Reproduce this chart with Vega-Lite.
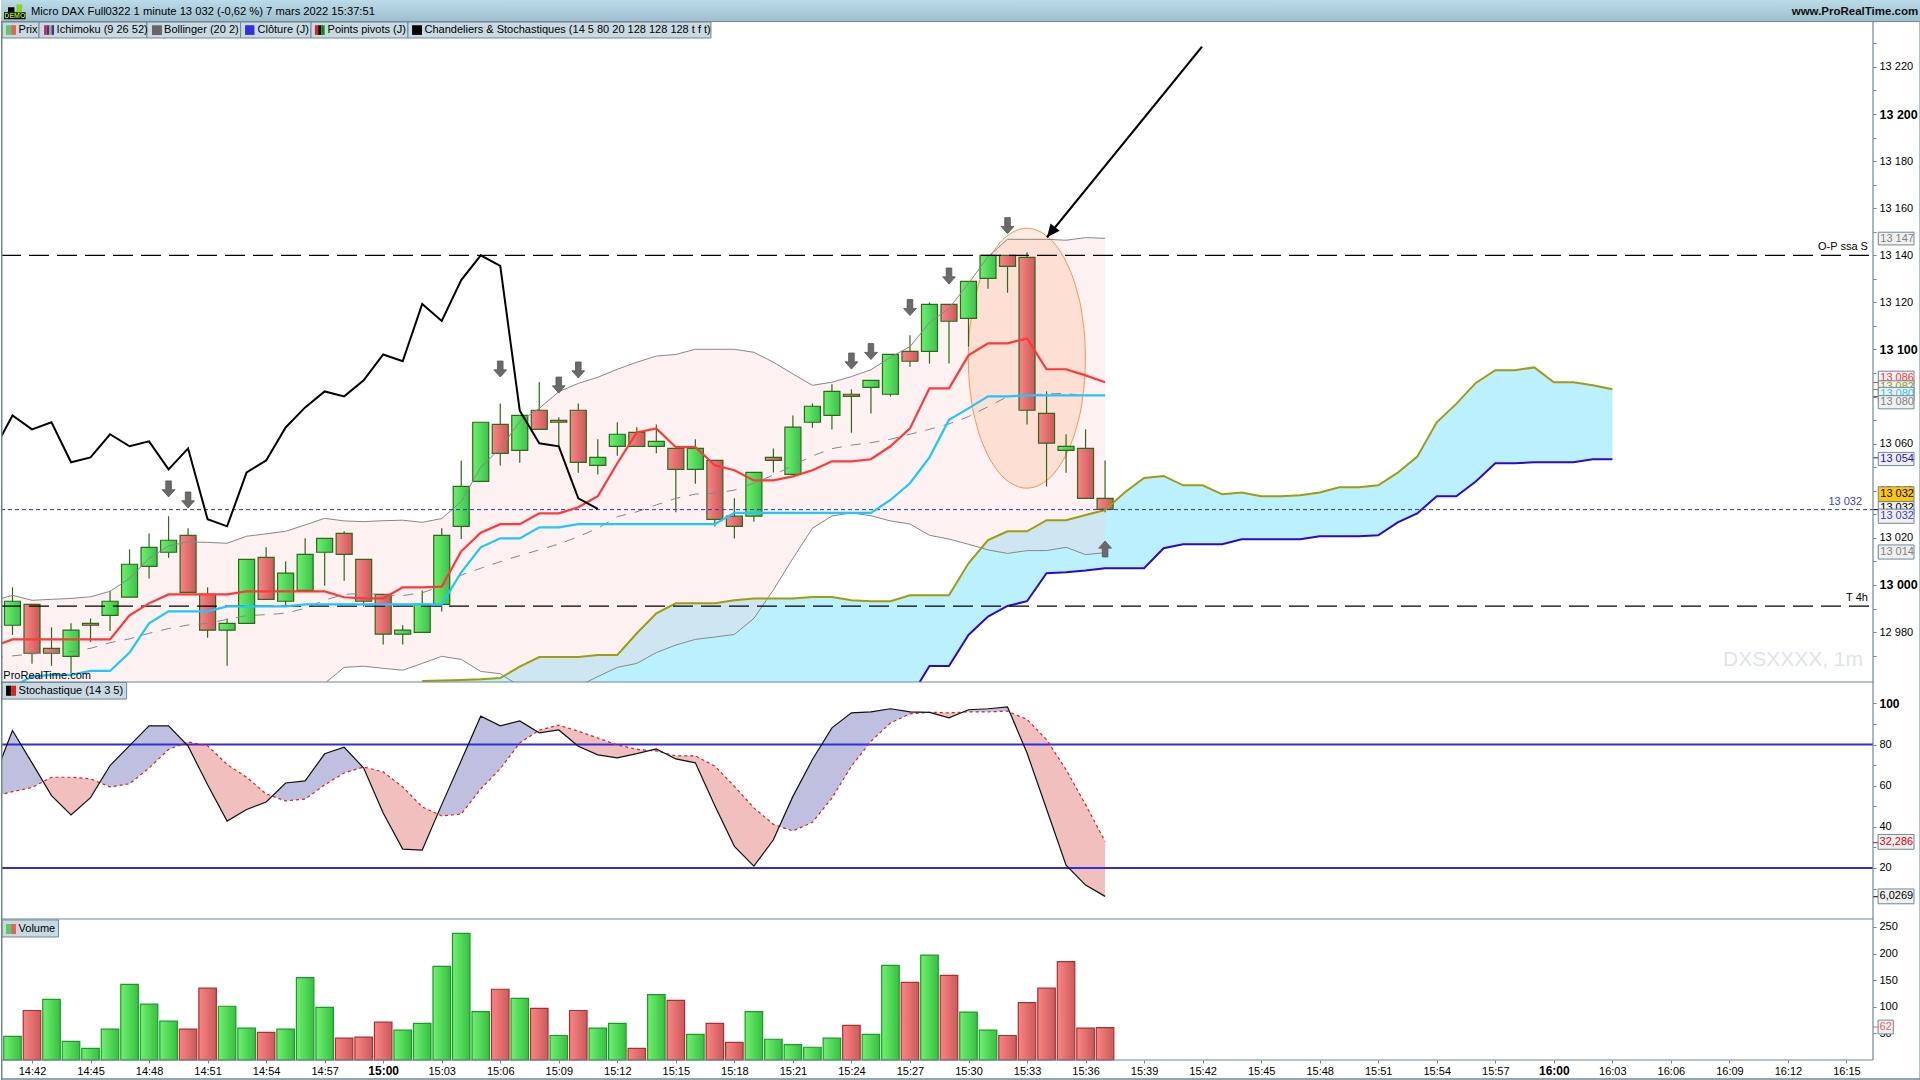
{"$schema":"https://vega.github.io/schema/vega-lite/v6.json","padding":0,"spacing":0,"bounds":"flush","background":"white","config":{"view":{"stroke":null},"axis":{"domain":false,"ticks":false,"labels":false,"grid":false,"titleOpacity":0,"titleFontSize":1,"titlePadding":0},"text":{"font":"Liberation Sans","fontSize":11},"concat":{"spacing":0}},
"datasets":{
"candles":[{"m":881,"o":12982.9,"h":12999,"l":12978.8,"c":12993.1},{"m":882,"o":12991.8,"h":12991.8,"l":12966.5,"c":12971},{"m":883,"o":12973.1,"h":12982,"l":12965.7,"c":12971},{"m":884,"o":12969.7,"h":12983.7,"l":12962.5,"c":12980.8},{"m":885,"o":12983.7,"h":12985.8,"l":12975.8,"c":12982.9},{"m":886,"o":12987.1,"h":12997.6,"l":12980.5,"c":12993.1},{"m":887,"o":12994.8,"h":13015.1,"l":12994.8,"c":13008.8},{"m":888,"o":13007.9,"h":13021.9,"l":13002.7,"c":13016},{"m":889,"o":13013.9,"h":13029.2,"l":13011.5,"c":13019},{"m":890,"o":13021.1,"h":13024.1,"l":12996.9,"c":12996.9},{"m":891,"o":12996,"h":12999,"l":12977.6,"c":12980.8},{"m":892,"o":12980.8,"h":12985.8,"l":12965.7,"c":12983.7},{"m":893,"o":12983.7,"h":13010.9,"l":12983.7,"c":13010.9},{"m":894,"o":13011.7,"h":13016,"l":12993.9,"c":12993.9},{"m":895,"o":12993.1,"h":13010,"l":12990.8,"c":13005},{"m":896,"o":12997.7,"h":13019.8,"l":12997.7,"c":13013},{"m":897,"o":13013.9,"h":13019.8,"l":12999.7,"c":13019.8},{"m":898,"o":13021.9,"h":13022.8,"l":13001.8,"c":13013},{"m":899,"o":13010.9,"h":13010.9,"l":12990.8,"c":12993.1},{"m":900,"o":12996,"h":12996,"l":12974.7,"c":12979.1},{"m":901,"o":12979.1,"h":12982.9,"l":12974.7,"c":12980.8},{"m":902,"o":12979.9,"h":12997.7,"l":12979.9,"c":12991.8},{"m":903,"o":12991.8,"h":13024.1,"l":12988.7,"c":13021.1},{"m":904,"o":13024.9,"h":13052.9,"l":13019.5,"c":13041.9},{"m":905,"o":13044,"h":13069.1,"l":13044,"c":13069.1},{"m":906,"o":13068.2,"h":13077.1,"l":13050.7,"c":13055.9},{"m":907,"o":13057.2,"h":13072,"l":13051.9,"c":13072},{"m":908,"o":13074.2,"h":13086.1,"l":13066.1,"c":13066.1},{"m":909,"o":13069.9,"h":13071.2,"l":13058.7,"c":13069.1},{"m":910,"o":13074.2,"h":13077.1,"l":13047.7,"c":13052.1},{"m":911,"o":13050.8,"h":13061.9,"l":13046.9,"c":13054.2},{"m":912,"o":13058.9,"h":13069.1,"l":13054.9,"c":13064},{"m":913,"o":13064.8,"h":13067,"l":13058.9,"c":13058.9},{"m":914,"o":13058.9,"h":13068.2,"l":13055.9,"c":13061},{"m":915,"o":13058,"h":13058,"l":13030.9,"c":13049.1},{"m":916,"o":13049.1,"h":13061.9,"l":13043,"c":13058},{"m":917,"o":13052.9,"h":13052.9,"l":13024.8,"c":13027.9},{"m":918,"o":13029.2,"h":13036.8,"l":13019.7,"c":13024.9},{"m":919,"o":13029.2,"h":13047.8,"l":13026.9,"c":13047.8},{"m":920,"o":13054.2,"h":13058,"l":13047.8,"c":13052.9},{"m":921,"o":13047,"h":13072,"l":13047,"c":13067},{"m":922,"o":13069.1,"h":13077.1,"l":13066.8,"c":13075.9},{"m":923,"o":13072,"h":13085.2,"l":13066,"c":13082.2},{"m":924,"o":13081,"h":13083.1,"l":13064.7,"c":13080.1},{"m":925,"o":13083.9,"h":13086.9,"l":13072.8,"c":13086.9},{"m":926,"o":13081,"h":13097.9,"l":13080,"c":13097.9},{"m":927,"o":13099.2,"h":13106,"l":13092.7,"c":13095},{"m":928,"o":13099.2,"h":13120,"l":13094,"c":13119.2},{"m":929,"o":13119.2,"h":13119.2,"l":13094,"c":13112},{"m":930,"o":13113.2,"h":13128.9,"l":13101.2,"c":13128.9},{"m":931,"o":13130.2,"h":13140,"l":13125.8,"c":13140},{"m":932,"o":13140,"h":13140,"l":13124.1,"c":13135.3},{"m":933,"o":13139.1,"h":13141.3,"l":13068.1,"c":13074.2},{"m":934,"o":13072.9,"h":13082.2,"l":13041.8,"c":13060.2},{"m":935,"o":13057.2,"h":13064,"l":13047.7,"c":13058.9},{"m":936,"o":13058,"h":13066.1,"l":13036.8,"c":13036.8},{"m":937,"o":13036.8,"h":13052.9,"l":13030.9,"c":13032.1}],
"lines":[{"m":880,"blk":13056.6,"ten":12973.8,"kij":12955,"mid":12969,"bbu":12993.3,"bbl":12955},{"m":881,"blk":13072,"ten":12976.9,"kij":12956.8,"mid":12969.9,"bbu":12995.6,"bbl":12955},{"m":882,"blk":13066.1,"ten":12976.9,"kij":12961.1,"mid":12970.7,"bbu":12993.5,"bbl":12955},{"m":883,"blk":13069.1,"ten":12976.9,"kij":12961.8,"mid":12971.3,"bbu":12993.9,"bbl":12955},{"m":884,"blk":13052.1,"ten":12976.9,"kij":12961.8,"mid":12971.7,"bbu":12994.3,"bbl":12955},{"m":885,"blk":13054.2,"ten":12976.9,"kij":12963.5,"mid":12973.1,"bbu":12995,"bbl":12955},{"m":886,"blk":13064,"ten":12976.9,"kij":12963.5,"mid":12975.5,"bbu":12997.3,"bbl":12955},{"m":887,"blk":13058.9,"ten":12987.1,"kij":12971.3,"mid":12977.1,"bbu":13002.8,"bbl":12955},{"m":888,"blk":13061,"ten":12992.2,"kij":12983.7,"mid":12979.5,"bbu":13011.3,"bbl":12955},{"m":889,"blk":13049.1,"ten":12996,"kij":12988.8,"mid":12981.5,"bbu":13016.6,"bbl":12955},{"m":890,"blk":13058,"ten":12996,"kij":12988.8,"mid":12983,"bbu":13018.3,"bbl":12955},{"m":891,"blk":13027.9,"ten":12996,"kij":12988.8,"mid":12983.7,"bbu":13018.1,"bbl":12955},{"m":892,"blk":13024.9,"ten":12996,"kij":12990.9,"mid":12985.4,"bbu":13017.7,"bbl":12955},{"m":893,"blk":13047.8,"ten":12997.3,"kij":12990.9,"mid":12987,"bbu":13020.7,"bbl":12955},{"m":894,"blk":13052.9,"ten":12997.3,"kij":12990.9,"mid":12987.4,"bbu":13021.7,"bbl":12955},{"m":895,"blk":13066.9,"ten":12997.3,"kij":12990.9,"mid":12988,"bbu":13022.8,"bbl":12955},{"m":896,"blk":13075.4,"ten":12997.3,"kij":12991.8,"mid":12990.1,"bbu":13025.5,"bbl":12955},{"m":897,"blk":13082.2,"ten":12997.3,"kij":12991.8,"mid":12993.6,"bbu":13028.3,"bbl":12958.2},{"m":898,"blk":13080.1,"ten":12994.8,"kij":12991.8,"mid":12996,"bbu":13027.2,"bbl":12965},{"m":899,"blk":13086.9,"ten":12994.3,"kij":12991.8,"mid":12996.5,"bbu":13026.9,"bbl":12965.5},{"m":900,"blk":13097.9,"ten":12994.3,"kij":12991.8,"mid":12995.8,"bbu":13027.3,"bbl":12964.6},{"m":901,"blk":13095,"ten":12999,"kij":12991.8,"mid":12995.5,"bbu":13027.5,"bbl":12963.8},{"m":902,"blk":13119.3,"ten":12999,"kij":12991.8,"mid":12996.7,"bbu":13026.6,"bbl":12966.7},{"m":903,"blk":13112.1,"ten":12999.3,"kij":12991.8,"mid":12999.6,"bbu":13028.2,"bbl":12969.7},{"m":904,"blk":13129.5,"ten":13014.3,"kij":13005.4,"mid":13004.2,"bbu":13035.4,"bbl":12968.4},{"m":905,"blk":13140,"ten":13022.2,"kij":13016,"mid":13007.1,"bbu":13050,"bbl":12963.3},{"m":906,"blk":13135.5,"ten":13025.8,"kij":13019.8,"mid":13009.9,"bbu":13058,"bbl":12962.3},{"m":907,"blk":13074,"ten":13025.8,"kij":13019.8,"mid":13012.5,"bbu":13069.4,"bbl":12957},{"m":908,"blk":13060.2,"ten":13030.4,"kij":13024.5,"mid":13014.9,"bbu":13075,"bbl":12955.4},{"m":909,"blk":13058.9,"ten":13030.4,"kij":13024.5,"mid":13017.4,"bbu":13082.1,"bbl":12955},{"m":910,"blk":13036.8,"ten":13033,"kij":13025.8,"mid":13020.5,"bbu":13085.6,"bbl":12957},{"m":911,"blk":13032.3,"ten":13037.7,"kij":13025.8,"mid":13024.1,"bbu":13088.2,"bbl":12961.1},{"m":912,"ten":13051.7,"kij":13025.8,"mid":13029,"bbu":13091.6,"bbl":12965},{"m":913,"ten":13064.8,"kij":13025.8,"mid":13031.1,"bbu":13094.6,"bbl":12966.7},{"m":914,"ten":13066.5,"kij":13025.8,"mid":13034,"bbu":13097.2,"bbl":12971.3},{"m":915,"ten":13058.5,"kij":13025.8,"mid":13036.8,"bbu":13097.9,"bbl":12974.5},{"m":916,"ten":13058.5,"kij":13025.8,"mid":13038.6,"bbu":13100.1,"bbl":12976.9},{"m":917,"ten":13050.8,"kij":13025.8,"mid":13038.9,"bbu":13100.1,"bbl":12977.9},{"m":918,"ten":13048.7,"kij":13030.6,"mid":13040.3,"bbu":13100.1,"bbl":12979},{"m":919,"ten":13044.4,"kij":13030.6,"mid":13043.2,"bbu":13098.8,"bbl":12985.8},{"m":920,"ten":13044.4,"kij":13030.6,"mid":13046.7,"bbu":13094.6,"bbl":12997.9},{"m":921,"ten":13046.1,"kij":13030.6,"mid":13050.7,"bbu":13089.6,"bbl":13011.3},{"m":922,"ten":13048.7,"kij":13030.6,"mid":13054.8,"bbu":13084.8,"bbl":13024.1},{"m":923,"ten":13052.5,"kij":13030.6,"mid":13057.9,"bbu":13086.1,"bbl":13029.3},{"m":924,"ten":13052.5,"kij":13030.6,"mid":13059.4,"bbu":13088.5,"bbl":13030.6},{"m":925,"ten":13053.4,"kij":13030.6,"mid":13060.4,"bbu":13091.4,"bbl":13029.4},{"m":926,"ten":13058.9,"kij":13036.1,"mid":13061.9,"bbu":13096.7,"bbl":13027.2},{"m":927,"ten":13066.5,"kij":13043.2,"mid":13064,"bbu":13101.2,"bbl":13025.9},{"m":928,"ten":13083.5,"kij":13054.2,"mid":13066.1,"bbu":13111.4,"bbl":13021.1},{"m":929,"ten":13083.5,"kij":13070.1,"mid":13068.4,"bbu":13117.5,"bbl":13019.5},{"m":930,"ten":13097.5,"kij":13075,"mid":13071.5,"bbu":13128.1,"bbl":13017.3},{"m":931,"ten":13102.6,"kij":13080.1,"mid":13075.7,"bbu":13139.4,"bbl":13014.9},{"m":932,"ten":13102.6,"kij":13080.1,"mid":13080,"bbu":13146.8,"bbl":13013.4},{"m":933,"ten":13104.7,"kij":13080.5,"mid":13080.7,"bbu":13146.8,"bbl":13014.6},{"m":934,"ten":13091.6,"kij":13080.5,"mid":13081.1,"bbu":13146.8,"bbl":13014.6},{"m":935,"ten":13091.6,"kij":13080.5,"mid":13081.4,"bbu":13146.4,"bbl":13016},{"m":936,"ten":13089,"kij":13080.5,"mid":13080,"bbu":13147.5,"bbl":13012.9},{"m":937,"ten":13086.1,"kij":13080.5,"bbu":13147.2,"bbl":13013.7}],
"ichi":[{"m":902,"ssa":12959.2,"ssb":12950},{"m":903,"ssa":12959.4,"ssb":12950},{"m":904,"ssa":12959.7,"ssb":12950},{"m":905,"ssa":12960,"ssb":12950},{"m":906,"ssa":12960.5,"ssb":12950},{"m":907,"ssa":12965.3,"ssb":12950},{"m":908,"ssa":12969.4,"ssb":12950},{"m":909,"ssa":12969.4,"ssb":12950},{"m":910,"ssa":12969.4,"ssb":12950},{"m":911,"ssa":12970.3,"ssb":12950},{"m":912,"ssa":12970.3,"ssb":12950},{"m":913,"ssa":12979.5,"ssb":12950},{"m":914,"ssa":12988,"ssb":12950},{"m":915,"ssa":12992.2,"ssb":12950},{"m":916,"ssa":12992.2,"ssb":12950},{"m":917,"ssa":12992.2,"ssb":12950},{"m":918,"ssa":12993.5,"ssb":12950},{"m":919,"ssa":12994.3,"ssb":12950},{"m":920,"ssa":12994.3,"ssb":12950},{"m":921,"ssa":12994.3,"ssb":12950},{"m":922,"ssa":12994.9,"ssb":12950},{"m":923,"ssa":12994.9,"ssb":12950},{"m":924,"ssa":12993.5,"ssb":12950},{"m":925,"ssa":12993.1,"ssb":12950},{"m":926,"ssa":12993.1,"ssb":12950},{"m":927,"ssa":12995.6,"ssb":12952},{"m":928,"ssa":12995.6,"ssb":12965.6},{"m":929,"ssa":12995.6,"ssb":12965.6},{"m":930,"ssa":13009.2,"ssb":12978.8},{"m":931,"ssa":13019.1,"ssb":12986.6},{"m":932,"ssa":13022.8,"ssb":12991.1},{"m":933,"ssa":13022.8,"ssb":12993.1},{"m":934,"ssa":13027.5,"ssb":13005},{"m":935,"ssa":13027.5,"ssb":13005.4},{"m":936,"ssa":13029.7,"ssb":13006.1},{"m":937,"ssa":13031.8,"ssb":13007.1},{"m":938,"ssa":13039.3,"ssb":13007.1},{"m":939,"ssa":13045.4,"ssb":13007.1},{"m":940,"ssa":13046.3,"ssb":13015.6},{"m":941,"ssa":13042.3,"ssb":13017.3},{"m":942,"ssa":13042.3,"ssb":13017.3},{"m":943,"ssa":13038.5,"ssb":13017.3},{"m":944,"ssa":13039.3,"ssb":13019.4},{"m":945,"ssa":13037.7,"ssb":13019.4},{"m":946,"ssa":13037.7,"ssb":13019.4},{"m":947,"ssa":13038.1,"ssb":13019.4},{"m":948,"ssa":13039.3,"ssb":13020.7},{"m":949,"ssa":13041.5,"ssb":13020.7},{"m":950,"ssa":13041.5,"ssb":13020.7},{"m":951,"ssa":13042.3,"ssb":13021.1},{"m":952,"ssa":13047.7,"ssb":13026.6},{"m":953,"ssa":13054.5,"ssb":13030.4},{"m":954,"ssa":13069.1,"ssb":13037.7},{"m":955,"ssa":13076.9,"ssb":13037.7},{"m":956,"ssa":13085.8,"ssb":13043.9},{"m":957,"ssa":13091.2,"ssb":13051.7},{"m":958,"ssa":13091.2,"ssb":13051.7},{"m":959,"ssa":13092.4,"ssb":13052.1},{"m":960,"ssa":13086.1,"ssb":13052.1},{"m":961,"ssa":13086.1,"ssb":13052.1},{"m":962,"ssa":13084.8,"ssb":13053.4},{"m":963,"ssa":13083.1,"ssb":13053.4}],
"ellipse":[{"m":929.99,"t":13096.3,"b":13096.3},{"m":930.005,"t":13101.8,"b":13090.8},{"m":930.02,"t":13104.1,"b":13088.5},{"m":930.14,"t":13113.5,"b":13079.1},{"m":930.44,"t":13125.4,"b":13067.2},{"m":930.89,"t":13135.7,"b":13056.9},{"m":931.49,"t":13144.1,"b":13048.5},{"m":932.24,"t":13149.7,"b":13042.9},{"m":932.99,"t":13151.5,"b":13041.1},{"m":933.74,"t":13149.7,"b":13042.9},{"m":934.49,"t":13144.1,"b":13048.5},{"m":935.09,"t":13135.7,"b":13056.9},{"m":935.54,"t":13125.4,"b":13067.2},{"m":935.84,"t":13113.5,"b":13079.1},{"m":935.96,"t":13104.1,"b":13088.5},{"m":935.975,"t":13101.8,"b":13090.8},{"m":935.99,"t":13096.3,"b":13096.3}],
"tags":[{"m":976.63,"id":1,"p":13147.1,"lo":13144.4,"hi":13149.8,"label":"13 147"},{"m":976.63,"id":10,"p":13014,"lo":13011,"hi":13017,"label":"13 014"},{"m":976.63,"id":2,"p":13088,"lo":13085.2,"hi":13090.8,"label":"13 086"},{"m":976.63,"id":3,"p":13083.9,"lo":13081.1,"hi":13086.7,"label":"13 082"},{"m":976.63,"id":4,"p":13081.1,"lo":13078.3,"hi":13083.9,"label":"13 080"},{"m":976.63,"id":5,"p":13077.6,"lo":13074.8,"hi":13080.4,"label":"13 080"},{"m":976.63,"id":6,"p":13053.5,"lo":13050.7,"hi":13056.3,"label":"13 054"},{"m":976.63,"id":7,"p":13032.6,"lo":13029.8,"hi":13035.4,"label":"13 032"},{"m":976.63,"id":8,"p":13038.6,"lo":13035.5,"hi":13041.7,"label":"13 032"},{"m":976.63,"id":9,"p":13029.2,"lo":13026.2,"hi":13032.2,"label":"13 032"}],
"swatches":[{"m0":880.67,"m1":880.93,"lo":13233.6,"hi":13237.7,"c":"g"},{"m0":880.93,"m1":881.18,"lo":13233.6,"hi":13237.7,"c":"u"},{"m0":882.62,"m1":882.75,"lo":13233.6,"hi":13237.7,"c":"r"},{"m0":882.75,"m1":882.875,"lo":13233.6,"hi":13237.7,"c":"b"},{"m0":882.875,"m1":883,"lo":13233.6,"hi":13237.7,"c":"o"},{"m0":883,"m1":883.13,"lo":13233.6,"hi":13237.7,"c":"b"},{"m0":888.15,"m1":888.66,"lo":13233.6,"hi":13237.7,"c":"h"},{"m0":892.92,"m1":893.4,"lo":13233.6,"hi":13237.7,"c":"b"},{"m0":896.5,"m1":896.67,"lo":13233.6,"hi":13237.7,"c":"r"},{"m0":896.67,"m1":896.83,"lo":13233.6,"hi":13237.7,"c":"k"},{"m0":896.83,"m1":897,"lo":13233.6,"hi":13237.7,"c":"g2"},{"m0":901.48,"m1":901.99,"lo":13233.6,"hi":13237.7,"c":"k"}],
"stoch":[{"m":880,"k":62.5,"d":54.8},{"m":881,"k":86.8,"d":57.1},{"m":882,"k":71.1,"d":59.1},{"m":883,"k":55.2,"d":64.1},{"m":884,"k":45.8,"d":64.1},{"m":885,"k":54.2,"d":63.3},{"m":886,"k":69.8,"d":59.4},{"m":887,"k":79.5,"d":60.9},{"m":888,"k":89.1,"d":68.6},{"m":889,"k":89.1,"d":77.6},{"m":890,"k":79.2,"d":81.3},{"m":891,"k":60.5,"d":79.4},{"m":892,"k":42.8,"d":70.3},{"m":893,"k":48.4,"d":64.1},{"m":894,"k":52.1,"d":56},{"m":895,"k":61.3,"d":52.6},{"m":896,"k":62.3,"d":53.5},{"m":897,"k":75.5,"d":60.4},{"m":898,"k":78.7,"d":66.2},{"m":899,"k":68.6,"d":69.1},{"m":900,"k":46.7,"d":66.7},{"m":901,"k":29.2,"d":59.4},{"m":902,"k":28.7,"d":49.7},{"m":903,"k":50.8,"d":45.3},{"m":904,"k":72.2,"d":46.2},{"m":905,"k":93.8,"d":58.4},{"m":906,"k":89.1,"d":68.2},{"m":907,"k":91.5,"d":80.8},{"m":908,"k":85.7,"d":87},{"m":909,"k":87.1,"d":89.4},{"m":910,"k":79.2,"d":86.5},{"m":911,"k":75,"d":83.2},{"m":912,"k":73.5,"d":79.8},{"m":913,"k":75.6,"d":77.7},{"m":914,"k":77.9,"d":76.9},{"m":915,"k":73,"d":74.5},{"m":916,"k":71.1,"d":74.5},{"m":917,"k":50.3,"d":69.5},{"m":918,"k":30.5,"d":59.7},{"m":919,"k":20.9,"d":49.2},{"m":920,"k":33.7,"d":41.2},{"m":921,"k":54.8,"d":38},{"m":922,"k":72.7,"d":42.2},{"m":923,"k":88.1,"d":54},{"m":924,"k":95.4,"d":69.5},{"m":925,"k":95.9,"d":81.6},{"m":926,"k":97.4,"d":90.5},{"m":927,"k":95.9,"d":94.9},{"m":928,"k":95.6,"d":95.7},{"m":929,"k":93,"d":95.4},{"m":930,"k":96.9,"d":95.9},{"m":931,"k":97.4,"d":95.9},{"m":932,"k":98.3,"d":96.2},{"m":933,"k":75.9,"d":92.2},{"m":934,"k":48.7,"d":82.4},{"m":935,"k":21.4,"d":67.8},{"m":936,"k":11.7,"d":50.8},{"m":937,"k":6.2,"d":32.9}],
"fill":[{"g":1,"s":"up","m":880,"k":62.5,"d":54.8},{"g":1,"s":"up","m":881,"k":86.8,"d":57.1},{"g":1,"s":"up","m":882,"k":71.1,"d":59.1},{"g":1,"s":"up","m":882.574,"k":62,"d":62},{"g":2,"s":"dn","m":882.574,"k":62,"d":62},{"g":2,"s":"dn","m":883,"k":55.2,"d":64.1},{"g":2,"s":"dn","m":884,"k":45.8,"d":64.1},{"g":2,"s":"dn","m":885,"k":54.2,"d":63.3},{"g":2,"s":"dn","m":885.467,"k":61.5,"d":61.5},{"g":3,"s":"up","m":885.467,"k":61.5,"d":61.5},{"g":3,"s":"up","m":886,"k":69.8,"d":59.4},{"g":3,"s":"up","m":887,"k":79.5,"d":60.9},{"g":3,"s":"up","m":888,"k":89.1,"d":68.6},{"g":3,"s":"up","m":889,"k":89.1,"d":77.6},{"g":3,"s":"up","m":889.846,"k":80.7,"d":80.7},{"g":4,"s":"dn","m":889.846,"k":80.7,"d":80.7},{"g":4,"s":"dn","m":890,"k":79.2,"d":81.3},{"g":4,"s":"dn","m":891,"k":60.5,"d":79.4},{"g":4,"s":"dn","m":892,"k":42.8,"d":70.3},{"g":4,"s":"dn","m":893,"k":48.4,"d":64.1},{"g":4,"s":"dn","m":894,"k":52.1,"d":56},{"g":4,"s":"dn","m":894.31,"k":55,"d":55},{"g":5,"s":"up","m":894.31,"k":55,"d":55},{"g":5,"s":"up","m":895,"k":61.3,"d":52.6},{"g":5,"s":"up","m":896,"k":62.3,"d":53.5},{"g":5,"s":"up","m":897,"k":75.5,"d":60.4},{"g":5,"s":"up","m":898,"k":78.7,"d":66.2},{"g":5,"s":"up","m":898.96,"k":69,"d":69},{"g":6,"s":"dn","m":898.96,"k":69,"d":69},{"g":6,"s":"dn","m":899,"k":68.6,"d":69.1},{"g":6,"s":"dn","m":900,"k":46.7,"d":66.7},{"g":6,"s":"dn","m":901,"k":29.2,"d":59.4},{"g":6,"s":"dn","m":902,"k":28.7,"d":49.7},{"g":6,"s":"dn","m":902.792,"k":46.2,"d":46.2},{"g":7,"s":"up","m":902.792,"k":46.2,"d":46.2},{"g":7,"s":"up","m":903,"k":50.8,"d":45.3},{"g":7,"s":"up","m":904,"k":72.2,"d":46.2},{"g":7,"s":"up","m":905,"k":93.8,"d":58.4},{"g":7,"s":"up","m":906,"k":89.1,"d":68.2},{"g":7,"s":"up","m":907,"k":91.5,"d":80.8},{"g":7,"s":"up","m":907.892,"k":86.3,"d":86.3},{"g":8,"s":"dn","m":907.892,"k":86.3,"d":86.3},{"g":8,"s":"dn","m":908,"k":85.7,"d":87},{"g":8,"s":"dn","m":909,"k":87.1,"d":89.4},{"g":8,"s":"dn","m":910,"k":79.2,"d":86.5},{"g":8,"s":"dn","m":911,"k":75,"d":83.2},{"g":8,"s":"dn","m":912,"k":73.5,"d":79.8},{"g":8,"s":"dn","m":913,"k":75.6,"d":77.7},{"g":8,"s":"dn","m":913.677,"k":77.2,"d":77.2},{"g":9,"s":"up","m":913.677,"k":77.2,"d":77.2},{"g":9,"s":"up","m":914,"k":77.9,"d":76.9},{"g":9,"s":"up","m":914.4,"k":75.9,"d":75.9},{"g":10,"s":"dn","m":914.4,"k":75.9,"d":75.9},{"g":10,"s":"dn","m":915,"k":73,"d":74.5},{"g":10,"s":"dn","m":916,"k":71.1,"d":74.5},{"g":10,"s":"dn","m":917,"k":50.3,"d":69.5},{"g":10,"s":"dn","m":918,"k":30.5,"d":59.7},{"g":10,"s":"dn","m":919,"k":20.9,"d":49.2},{"g":10,"s":"dn","m":920,"k":33.7,"d":41.2},{"g":10,"s":"dn","m":920.309,"k":40.2,"d":40.2},{"g":11,"s":"up","m":920.309,"k":40.2,"d":40.2},{"g":11,"s":"up","m":921,"k":54.8,"d":38},{"g":11,"s":"up","m":922,"k":72.7,"d":42.2},{"g":11,"s":"up","m":923,"k":88.1,"d":54},{"g":11,"s":"up","m":924,"k":95.4,"d":69.5},{"g":11,"s":"up","m":925,"k":95.9,"d":81.6},{"g":11,"s":"up","m":926,"k":97.4,"d":90.5},{"g":11,"s":"up","m":927,"k":95.9,"d":94.9},{"g":11,"s":"up","m":927.9,"k":95.6,"d":95.6},{"g":12,"s":"dn","m":927.9,"k":95.6,"d":95.6},{"g":12,"s":"dn","m":928,"k":95.6,"d":95.7},{"g":12,"s":"dn","m":929,"k":93,"d":95.4},{"g":12,"s":"dn","m":929.706,"k":95.75,"d":95.75},{"g":13,"s":"up","m":929.706,"k":95.75,"d":95.75},{"g":13,"s":"up","m":930,"k":96.9,"d":95.9},{"g":13,"s":"up","m":931,"k":97.4,"d":95.9},{"g":13,"s":"up","m":932,"k":98.3,"d":96.2},{"g":13,"s":"up","m":932.114,"k":95.7,"d":95.7},{"g":14,"s":"dn","m":932.114,"k":95.7,"d":95.7},{"g":14,"s":"dn","m":933,"k":75.9,"d":92.2},{"g":14,"s":"dn","m":934,"k":48.7,"d":82.4},{"g":14,"s":"dn","m":935,"k":21.4,"d":67.8},{"g":14,"s":"dn","m":936,"k":11.7,"d":50.8},{"g":14,"s":"dn","m":937,"k":6.2,"d":32.9}],
"volume":[{"m":881,"v":44.5,"s":"up"},{"m":882,"v":93,"s":"dn"},{"m":883,"v":114,"s":"up"},{"m":884,"v":35,"s":"up"},{"m":885,"v":22,"s":"up"},{"m":886,"v":58,"s":"up"},{"m":887,"v":142,"s":"up"},{"m":888,"v":105,"s":"up"},{"m":889,"v":73,"s":"up"},{"m":890,"v":58,"s":"dn"},{"m":891,"v":135,"s":"dn"},{"m":892,"v":101,"s":"up"},{"m":893,"v":60,"s":"up"},{"m":894,"v":52,"s":"dn"},{"m":895,"v":58,"s":"up"},{"m":896,"v":155,"s":"up"},{"m":897,"v":99,"s":"up"},{"m":898,"v":41,"s":"dn"},{"m":899,"v":43,"s":"dn"},{"m":900,"v":71,"s":"dn"},{"m":901,"v":56,"s":"up"},{"m":902,"v":69,"s":"up"},{"m":903,"v":176,"s":"up"},{"m":904,"v":238,"s":"up"},{"m":905,"v":91,"s":"up"},{"m":906,"v":133,"s":"dn"},{"m":907,"v":116,"s":"up"},{"m":908,"v":97,"s":"dn"},{"m":909,"v":46,"s":"up"},{"m":910,"v":93,"s":"dn"},{"m":911,"v":60,"s":"up"},{"m":912,"v":69,"s":"up"},{"m":913,"v":22,"s":"dn"},{"m":914,"v":123,"s":"up"},{"m":915,"v":112,"s":"dn"},{"m":916,"v":48,"s":"up"},{"m":917,"v":69,"s":"dn"},{"m":918,"v":33,"s":"dn"},{"m":919,"v":91,"s":"up"},{"m":920,"v":39,"s":"up"},{"m":921,"v":29,"s":"up"},{"m":922,"v":24,"s":"up"},{"m":923,"v":41,"s":"up"},{"m":924,"v":65,"s":"dn"},{"m":925,"v":48,"s":"up"},{"m":926,"v":178,"s":"up"},{"m":927,"v":146,"s":"dn"},{"m":928,"v":197,"s":"up"},{"m":929,"v":159,"s":"dn"},{"m":930,"v":90,"s":"up"},{"m":931,"v":56,"s":"up"},{"m":932,"v":46,"s":"dn"},{"m":933,"v":108,"s":"dn"},{"m":934,"v":135,"s":"dn"},{"m":935,"v":185,"s":"dn"},{"m":936,"v":60,"s":"dn"},{"m":937,"v":61,"s":"dn"}]
},
"vconcat":[
{"width":1920,"height":22,"encoding":{"x":{"field":"m","type":"quantitative","scale":{"domain":[880.411,978.82],"nice":false,"zero":false,"padding":0}}},
"layer":[
{"data":{"values":[{"m":880.411}]},"mark":{"type":"rect","fill":{"gradient":"linear","x1":0,"y1":0,"x2":0,"y2":1,"stops":[{"offset":0,"color":"#bcdbe9"},{"offset":1,"color":"#9dbdcc"}]}},"encoding":{"x2":{"datum":978.82},"y":{"datum":0,"type":"quantitative","scale":{"domain":[0,1],"nice":false,"zero":false}},"y2":{"datum":1}}},
{"data":{"values":[{"m":880.411}]},"mark":{"type":"rule","color":"#6e8896","strokeWidth":1},"encoding":{"x2":{"datum":978.82},"y":{"datum":0.02,"type":"quantitative"}}},
{"data":{"values":[{"m0":880.565,"m1":881.67,"lo":0.12,"hi":0.44,"c":"k"},{"m0":880.77,"m1":881.1,"lo":0.44,"hi":0.67,"c":"k"},{"m0":881.2,"m1":881.49,"lo":0.44,"hi":0.8,"c":"dg"}]},"mark":{"type":"rect"},"encoding":{"x":{"field":"m0","type":"quantitative"},"x2":{"field":"m1"},"y":{"field":"lo","type":"quantitative"},"y2":{"field":"hi"},"color":{"field":"c","type":"nominal","legend":null,"scale":{"domain":["g","u","r","b","o","h","k","g2","dg","up","dn"],"range":["#50d060","#e86060","#e02020","#3030e0","#c0b000","#666666","#000000","#009000","#8ccf20","#bfc0e0","#f2bfbf"]}}}},
{"data":{"values":[{"m":881.12,"v":0.28,"label":"DEMO"}]},"mark":{"type":"text","fontSize":7,"fontWeight":"bold","color":"#9ade20","align":"center","baseline":"middle"},"encoding":{"y":{"field":"v","type":"quantitative"},"text":{"field":"label"}}},
{"data":{"values":[{"m":881.95,"v":0.44,"label":"Micro DAX Full0322 1 minute 13 032 (-0,62 %) 7 mars 2022 15:37:51"}]},"mark":{"type":"text","fontSize":11.2,"color":"#000000","align":"left","baseline":"middle"},"encoding":{"y":{"field":"v","type":"quantitative"},"text":{"field":"label"}}},
{"data":{"values":[{"m":978.68,"v":0.44,"label":"www.ProRealTime.com"}]},"mark":{"type":"text","fontSize":11.5,"fontWeight":"bold","color":"#101010","align":"right","baseline":"middle"},"encoding":{"y":{"field":"v","type":"quantitative"},"text":{"field":"label"}}}
]},
{"width":1920,"height":660,"encoding":{"x":{"field":"m","type":"quantitative","scale":{"domain":[880.411,978.82],"nice":false,"zero":false,"padding":0}}},
"layer":[
{"data":{"name":"ichi"},"mark":{"type":"area","clip":true,"color":"#bbf0ff"},"encoding":{"y":{"field":"ssa","type":"quantitative","scale":{"domain":[12958.8,13239.07],"nice":false,"zero":false},"axis":{"title":null,"ticks":true,"labels":true,"tickCount":100,"orient":"right","offset":-48,"values":[12970,12980,12990,13000,13010,13020,13030,13040,13050,13060,13070,13080,13090,13100,13110,13120,13130,13140,13150,13160,13170,13180,13190,13200,13210,13220,13230],"domain":false,"grid":false,"tickSize":3,"tickColor":"#6e8896","labelColor":"#000000","labelFont":"Liberation Sans","labelFontSize":{"condition":{"test":"datum.value%100==0","value":12.5},"value":11},"labelFontWeight":{"condition":{"test":"datum.value%100==0","value":"bold"},"value":"normal"},"labelPadding":3,"labelOverlap":false,"labelBound":false,"labelFlush":false,"labelExpr":"datum.value%20==0?replace(format(datum.value,','),',',' '):''"}},"y2":{"field":"ssb"}}},
{"data":{"name":"lines"},"mark":{"type":"area","clip":true,"fill":"#f8cfcf","fillOpacity":0.294},"encoding":{"y":{"field":"bbu","type":"quantitative"},"y2":{"field":"bbl"}}},
{"data":{"name":"ellipse"},"mark":{"type":"area","interpolate":"monotone","fill":"#ff9a60","fillOpacity":0.2,"stroke":"#ff9055","strokeWidth":1},"encoding":{"y":{"field":"t","type":"quantitative"},"y2":{"field":"b"}}},
{"data":{"name":"candles"},"mark":{"type":"rule","color":"#2a6a18","strokeWidth":1.2},"encoding":{"y":{"field":"l","type":"quantitative"},"y2":{"field":"h"}}},
{"data":{"name":"candles"},"transform":[{"filter":"datum.c>=datum.o"}],"mark":{"type":"bar","width":16,"stroke":"#2a6a18","strokeWidth":1.2,"fill":{"gradient":"linear","x1":0,"y1":0,"x2":1,"y2":0,"stops":[{"offset":0,"color":"#6cf06c"},{"offset":1,"color":"#3cc24c"}]}},"encoding":{"y":{"field":"o","type":"quantitative"},"y2":{"field":"c"}}},
{"data":{"name":"candles"},"transform":[{"filter":"datum.c<datum.o"}],"mark":{"type":"bar","width":16,"stroke":"#2a6a18","strokeWidth":1.2,"fill":{"gradient":"linear","x1":0,"y1":0,"x2":1,"y2":0,"stops":[{"offset":0,"color":"#fa8484"},{"offset":1,"color":"#cc5a5a"}]}},"encoding":{"y":{"field":"o","type":"quantitative"},"y2":{"field":"c"}}},
{"data":{"name":"lines"},"mark":{"type":"line","clip":true,"color":"#888888","strokeWidth":1},"encoding":{"y":{"field":"bbu","type":"quantitative"}}},
{"data":{"name":"lines"},"mark":{"type":"line","clip":true,"color":"#888888","strokeWidth":1},"encoding":{"y":{"field":"bbl","type":"quantitative"}}},
{"data":{"name":"lines"},"mark":{"type":"line","clip":true,"color":"#888888","strokeWidth":1,"strokeDash":[10,9]},"encoding":{"y":{"field":"mid","type":"quantitative"}}},
{"data":{"name":"ichi"},"mark":{"type":"line","clip":true,"color":"#a09c0e","strokeWidth":2},"encoding":{"y":{"field":"ssa","type":"quantitative"}}},
{"data":{"name":"ichi"},"mark":{"type":"line","clip":true,"color":"#2a0ad0","strokeWidth":2},"encoding":{"y":{"field":"ssb","type":"quantitative"}}},
{"data":{"values":[{"p":13140,"m":880.411},{"p":12991,"m":880.411}]},"mark":{"type":"rule","color":"#000000","strokeWidth":1.2,"strokeDash":[20,8]},"encoding":{"x2":{"datum":976.36},"y":{"field":"p","type":"quantitative"}}},
{"data":{"values":[{"p":13032,"m":880.411}]},"mark":{"type":"rule","color":"#3030d8","strokeWidth":1,"strokeDash":[4,3]},"encoding":{"x2":{"datum":976.36},"y":{"field":"p","type":"quantitative"}}},
{"data":{"name":"lines"},"mark":{"type":"line","clip":true,"color":"#1cc8ff","strokeWidth":2.2},"encoding":{"y":{"field":"kij","type":"quantitative"}}},
{"data":{"name":"lines"},"mark":{"type":"line","clip":true,"color":"#ff3838","strokeWidth":2.2},"encoding":{"y":{"field":"ten","type":"quantitative"}}},
{"data":{"name":"lines"},"mark":{"type":"line","clip":true,"color":"#000000","strokeWidth":2},"encoding":{"y":{"field":"blk","type":"quantitative"}}},
{"data":{"values":[{"m":941.97,"p":13228.6},{"m":934.02,"p":13147.6}]},"mark":{"type":"line","color":"#000000","strokeWidth":2.2},"encoding":{"y":{"field":"p","type":"quantitative"}}},
{"data":{"values":[{"m":934.23,"p":13149.8}]},"mark":{"type":"point","shape":"M0,-1L0.9,1L-0.9,1Z","size":169,"angle":219,"filled":true,"fill":"#000000","opacity":1},"encoding":{"y":{"field":"p","type":"quantitative"}}},
{"data":{"values":[{"m":889,"p":13040.8},{"m":890,"p":13036.1},{"m":906,"p":13091.7},{"m":909,"p":13084.9},{"m":910,"p":13091.3},{"m":924,"p":13095.1},{"m":925,"p":13099.1},{"m":927,"p":13117.8},{"m":929,"p":13131.2},{"m":932,"p":13152.6}]},"mark":{"type":"point","shape":"M-0.35,-1L0.35,-1L0.35,0.1L0.8,0.1L0,1L-0.8,0.1L-0.35,0.1Z","size":256,"filled":true,"fill":"#6a6a6a","stroke":"#555555","strokeWidth":0.8,"opacity":1},"encoding":{"y":{"field":"p","type":"quantitative"}}},
{"data":{"values":[{"m":937,"p":13015.3}]},"mark":{"type":"point","shape":"M-0.35,1L0.35,1L0.35,-0.1L0.8,-0.1L0,-1L-0.8,-0.1L-0.35,-0.1Z","size":256,"filled":true,"fill":"#6a6a6a","stroke":"#555555","strokeWidth":0.8,"opacity":1},"encoding":{"y":{"field":"p","type":"quantitative"}}},
{"data":{"values":[{"m":976.1,"p":13143.5,"label":"O-P ssa S"},{"m":976.1,"p":12994.5,"label":"T 4h"}]},"mark":{"type":"text","align":"right","baseline":"middle","color":"#000000"},"encoding":{"y":{"field":"p","type":"quantitative"},"text":{"field":"label"}}},
{"data":{"values":[{"m":975.8,"p":13035.2,"label":"13 032"}]},"mark":{"type":"text","align":"right","baseline":"middle","color":"#3a3ae0"},"encoding":{"y":{"field":"p","type":"quantitative"},"text":{"field":"label"}}},
{"data":{"values":[{"m":975.85,"p":12968.2,"label":"DXSXXXX, 1m"}]},"mark":{"type":"text","align":"right","baseline":"middle","color":"#e0e4ee","fontSize":21},"encoding":{"y":{"field":"p","type":"quantitative"},"text":{"field":"label"}}},
{"data":{"values":[{"m":880.53,"p":12961.4,"label":"ProRealTime.com"}]},"mark":{"type":"text","align":"left","baseline":"middle","color":"#000000"},"encoding":{"y":{"field":"p","type":"quantitative"},"text":{"field":"label"}}},
{"data":{"values":[{"x":880.46,"x2":882.36},{"x":882.36,"x2":887.89},{"x":887.89,"x2":892.69},{"x":892.69,"x2":896.3},{"x":896.3,"x2":901.27},{"x":901.27,"x2":916.8}]},"mark":{"type":"rect","fill":"#c9d9e1","stroke":"#6e8896","strokeWidth":1},"encoding":{"x":{"field":"x","type":"quantitative"},"x2":{"field":"x2"},"y":{"datum":13239.07,"type":"quantitative"},"y2":{"datum":13232.28}}},
{"data":{"name":"swatches"},"mark":{"type":"rect"},"encoding":{"x":{"field":"m0","type":"quantitative"},"x2":{"field":"m1"},"y":{"field":"lo","type":"quantitative"},"y2":{"field":"hi"},"color":{"field":"c","type":"nominal","legend":null,"scale":{"domain":["g","u","r","b","o","h","k","g2","dg","up","dn"],"range":["#50d060","#e86060","#e02020","#3030e0","#c0b000","#666666","#000000","#009000","#8ccf20","#bfc0e0","#f2bfbf"]}}}},
{"data":{"values":[{"m":881.31,"p":13235.5,"label":"Prix"},{"m":883.26,"p":13235.5,"label":"Ichimoku (9 26 52)"},{"m":888.77,"p":13235.5,"label":"Bollinger (20 2)"},{"m":893.56,"p":13235.5,"label":"Clôture (J)"},{"m":897.15,"p":13235.5,"label":"Points pivots (J)"},{"m":902.12,"p":13235.5,"label":"Chandeliers & Stochastiques (14 5 80 20 128 128 128 t f t)"}]},"mark":{"type":"text","align":"left","baseline":"middle","color":"#000000"},"encoding":{"y":{"field":"p","type":"quantitative"},"text":{"field":"label"}}},
{"data":{"values":[{"m0":976.36,"m1":976.62,"p":13086}]},"mark":{"type":"rule","color":"#ff3838"},"encoding":{"x":{"field":"m0","type":"quantitative"},"x2":{"field":"m1"},"y":{"field":"p","type":"quantitative"}}},
{"data":{"values":[{"m0":976.36,"m1":976.62,"p":13083}]},"mark":{"type":"rule","color":"#a09c0e"},"encoding":{"x":{"field":"m0","type":"quantitative"},"x2":{"field":"m1"},"y":{"field":"p","type":"quantitative"}}},
{"data":{"values":[{"m0":976.36,"m1":976.62,"p":13080}]},"mark":{"type":"rule","color":"#555555"},"encoding":{"x":{"field":"m0","type":"quantitative"},"x2":{"field":"m1"},"y":{"field":"p","type":"quantitative"}}},
{"data":{"values":[{"m0":976.36,"m1":976.62,"p":13054}]},"mark":{"type":"rule","color":"#2a0ad0"},"encoding":{"x":{"field":"m0","type":"quantitative"},"x2":{"field":"m1"},"y":{"field":"p","type":"quantitative"}}},
{"data":{"values":[{"m0":976.36,"m1":976.62,"p":13032}]},"mark":{"type":"rule","color":"#000000"},"encoding":{"x":{"field":"m0","type":"quantitative"},"x2":{"field":"m1"},"y":{"field":"p","type":"quantitative"}}},
{"data":{"name":"tags"},"transform":[{"filter":"datum.id==1||datum.id==10"}],"mark":{"type":"rect","fill":"#f0f0f0","stroke":"#6e8896"},"encoding":{"x2":{"datum":978.46},"y":{"field":"lo","type":"quantitative"},"y2":{"field":"hi"}}},
{"data":{"name":"tags"},"transform":[{"filter":"datum.id==1||datum.id==10"}],"mark":{"type":"text","align":"left","baseline":"middle","dx":2,"color":"#808080"},"encoding":{"y":{"field":"p","type":"quantitative"},"text":{"field":"label"}}},
{"data":{"name":"tags"},"transform":[{"filter":"datum.id==2"}],"mark":{"type":"rect","fill":"#f0f0f0","stroke":"#6e8896"},"encoding":{"x2":{"datum":978.46},"y":{"field":"lo","type":"quantitative"},"y2":{"field":"hi"}}},
{"data":{"name":"tags"},"transform":[{"filter":"datum.id==2"}],"mark":{"type":"text","align":"left","baseline":"middle","dx":2,"color":"#ff3838"},"encoding":{"y":{"field":"p","type":"quantitative"},"text":{"field":"label"}}},
{"data":{"name":"tags"},"transform":[{"filter":"datum.id==3"}],"mark":{"type":"rect","fill":"#f0f0f0","stroke":"#6e8896"},"encoding":{"x2":{"datum":978.46},"y":{"field":"lo","type":"quantitative"},"y2":{"field":"hi"}}},
{"data":{"name":"tags"},"transform":[{"filter":"datum.id==3"}],"mark":{"type":"text","align":"left","baseline":"middle","dx":2,"color":"#a09c0e"},"encoding":{"y":{"field":"p","type":"quantitative"},"text":{"field":"label"}}},
{"data":{"name":"tags"},"transform":[{"filter":"datum.id==4"}],"mark":{"type":"rect","fill":"#f0f0f0","stroke":"#6e8896"},"encoding":{"x2":{"datum":978.46},"y":{"field":"lo","type":"quantitative"},"y2":{"field":"hi"}}},
{"data":{"name":"tags"},"transform":[{"filter":"datum.id==4"}],"mark":{"type":"text","align":"left","baseline":"middle","dx":2,"color":"#1cc8ff"},"encoding":{"y":{"field":"p","type":"quantitative"},"text":{"field":"label"}}},
{"data":{"name":"tags"},"transform":[{"filter":"datum.id==5"}],"mark":{"type":"rect","fill":"#f0f0f0","stroke":"#6e8896"},"encoding":{"x2":{"datum":978.46},"y":{"field":"lo","type":"quantitative"},"y2":{"field":"hi"}}},
{"data":{"name":"tags"},"transform":[{"filter":"datum.id==5"}],"mark":{"type":"text","align":"left","baseline":"middle","dx":2,"color":"#808080"},"encoding":{"y":{"field":"p","type":"quantitative"},"text":{"field":"label"}}},
{"data":{"name":"tags"},"transform":[{"filter":"datum.id==6"}],"mark":{"type":"rect","fill":"#f0f0f0","stroke":"#6e8896"},"encoding":{"x2":{"datum":978.46},"y":{"field":"lo","type":"quantitative"},"y2":{"field":"hi"}}},
{"data":{"name":"tags"},"transform":[{"filter":"datum.id==6"}],"mark":{"type":"text","align":"left","baseline":"middle","dx":2,"color":"#2a0ad0"},"encoding":{"y":{"field":"p","type":"quantitative"},"text":{"field":"label"}}},
{"data":{"name":"tags"},"transform":[{"filter":"datum.id==7"}],"mark":{"type":"rect","fill":"#f0f0f0","stroke":"#6e8896"},"encoding":{"x2":{"datum":978.46},"y":{"field":"lo","type":"quantitative"},"y2":{"field":"hi"}}},
{"data":{"name":"tags"},"transform":[{"filter":"datum.id==7"}],"mark":{"type":"text","align":"left","baseline":"middle","dx":2,"color":"#000000"},"encoding":{"y":{"field":"p","type":"quantitative"},"text":{"field":"label"}}},
{"data":{"name":"tags"},"transform":[{"filter":"datum.id==8"}],"mark":{"type":"rect","fill":"#ffc800","stroke":"#6e8896"},"encoding":{"x2":{"datum":978.46},"y":{"field":"lo","type":"quantitative"},"y2":{"field":"hi"}}},
{"data":{"name":"tags"},"transform":[{"filter":"datum.id==8"}],"mark":{"type":"text","align":"left","baseline":"middle","dx":2,"color":"#000000"},"encoding":{"y":{"field":"p","type":"quantitative"},"text":{"field":"label"}}},
{"data":{"name":"tags"},"transform":[{"filter":"datum.id==9"}],"mark":{"type":"rect","fill":"#f0f0f0","stroke":"#6e8896"},"encoding":{"x2":{"datum":978.46},"y":{"field":"lo","type":"quantitative"},"y2":{"field":"hi"}}},
{"data":{"name":"tags"},"transform":[{"filter":"datum.id==9"}],"mark":{"type":"text","align":"left","baseline":"middle","dx":2,"color":"#3a3ae0"},"encoding":{"y":{"field":"p","type":"quantitative"},"text":{"field":"label"}}},
{"data":{"values":[{"m":976.36}]},"mark":{"type":"rule","color":"#6e8896","strokeWidth":1.2},"encoding":{}},
{"data":{"values":[{"m":880.45}]},"mark":{"type":"rule","color":"#6e8896","strokeWidth":1.5},"encoding":{}},
{"data":{"values":[{"m":978.78}]},"mark":{"type":"rule","color":"#6e8896","strokeWidth":1.5},"encoding":{}},
{"data":{"values":[{"m":880.411}]},"mark":{"type":"rule","color":"#6e8896","strokeWidth":1.2},"encoding":{"x2":{"datum":976.36},"y":{"datum":12958.8,"type":"quantitative"}}}
]},
{"width":1920,"height":237,"encoding":{"x":{"field":"m","type":"quantitative","scale":{"domain":[880.411,978.82],"nice":false,"zero":false,"padding":0}}},
"layer":[
{"data":{"name":"fill"},"mark":{"type":"area","clip":true},"encoding":{"y":{"field":"k","type":"quantitative","scale":{"domain":[-4.8,110.4],"nice":false,"zero":false},"axis":{"title":null,"ticks":true,"labels":true,"tickCount":100,"orient":"right","offset":-48,"values":[10,20,30,40,50,60,70,80,90,100],"domain":false,"grid":false,"tickSize":3,"tickColor":"#6e8896","labelColor":"#000000","labelFont":"Liberation Sans","labelFontSize":{"condition":{"test":"datum.value==100","value":12},"value":11},"labelFontWeight":{"condition":{"test":"datum.value==100","value":"bold"},"value":"normal"},"labelPadding":3,"labelOverlap":false,"labelBound":false,"labelFlush":false,"labelExpr":"datum.value%20==0?datum.value:''"}},"y2":{"field":"d"},"detail":{"field":"g"},"color":{"field":"s","type":"nominal","legend":null,"scale":{"domain":["g","u","r","b","o","h","k","g2","dg","up","dn"],"range":["#50d060","#e86060","#e02020","#3030e0","#c0b000","#666666","#000000","#009000","#8ccf20","#bfc0e0","#f2bfbf"]}}}},
{"data":{"values":[{"p":80,"m":880.411},{"p":20,"m":880.411}]},"mark":{"type":"rule","color":"#2e2ee0","strokeWidth":2},"encoding":{"x2":{"datum":976.36},"y":{"field":"p","type":"quantitative"}}},
{"data":{"name":"stoch"},"mark":{"type":"line","clip":true,"color":"#e02020","strokeWidth":1.2,"strokeDash":[3,3]},"encoding":{"y":{"field":"d","type":"quantitative"}}},
{"data":{"name":"stoch"},"mark":{"type":"line","clip":true,"color":"#111111","strokeWidth":1.2},"encoding":{"y":{"field":"k","type":"quantitative"}}},
{"data":{"values":[{"x":880.46,"x2":886.85}]},"mark":{"type":"rect","fill":"#c9d9e1","stroke":"#6e8896"},"encoding":{"x":{"field":"x","type":"quantitative"},"x2":{"field":"x2"},"y":{"datum":110.2,"type":"quantitative"},"y2":{"datum":102.1}}},
{"data":{"values":[{"m0":880.67,"m1":880.93,"lo":103.7,"hi":108.6,"c":"k"},{"m0":880.93,"m1":881.18,"lo":103.7,"hi":108.6,"c":"r"}]},"mark":{"type":"rect"},"encoding":{"x":{"field":"m0","type":"quantitative"},"x2":{"field":"m1"},"y":{"field":"lo","type":"quantitative"},"y2":{"field":"hi"},"color":{"field":"c","type":"nominal","legend":null,"scale":{"domain":["g","u","r","b","o","h","k","g2","dg","up","dn"],"range":["#50d060","#e86060","#e02020","#3030e0","#c0b000","#666666","#000000","#009000","#8ccf20","#bfc0e0","#f2bfbf"]}}}},
{"data":{"values":[{"m":881.31,"p":106.2,"label":"Stochastique (14 3 5)"}]},"mark":{"type":"text","align":"left","baseline":"middle","color":"#000000"},"encoding":{"y":{"field":"p","type":"quantitative"},"text":{"field":"label"}}},
{"data":{"values":[{"m0":976.36,"m1":976.62,"p":32.3}]},"mark":{"type":"rule","color":"#e00000"},"encoding":{"x":{"field":"m0","type":"quantitative"},"x2":{"field":"m1"},"y":{"field":"p","type":"quantitative"}}},
{"data":{"values":[{"m0":976.36,"m1":976.62,"p":6.03}]},"mark":{"type":"rule","color":"#000000"},"encoding":{"x":{"field":"m0","type":"quantitative"},"x2":{"field":"m1"},"y":{"field":"p","type":"quantitative"}}},
{"data":{"values":[{"m":976.62,"lo":29.1,"hi":36.3},{"m":976.62,"lo":2.6,"hi":9.8}]},"mark":{"type":"rect","fill":"#f0f0f0","stroke":"#6e8896"},"encoding":{"x2":{"datum":978.46},"y":{"field":"lo","type":"quantitative"},"y2":{"field":"hi"}}},
{"data":{"values":[{"m":976.62,"p":32.7,"label":"32,286"}]},"mark":{"type":"text","align":"left","baseline":"middle","dx":1.5,"color":"#e00000"},"encoding":{"y":{"field":"p","type":"quantitative"},"text":{"field":"label"}}},
{"data":{"values":[{"m":976.62,"p":6.2,"label":"6,0269"}]},"mark":{"type":"text","align":"left","baseline":"middle","dx":1.5,"color":"#000000"},"encoding":{"y":{"field":"p","type":"quantitative"},"text":{"field":"label"}}},
{"data":{"values":[{"m":976.36}]},"mark":{"type":"rule","color":"#6e8896","strokeWidth":1.2},"encoding":{}},
{"data":{"values":[{"m":880.45}]},"mark":{"type":"rule","color":"#6e8896","strokeWidth":1.5},"encoding":{}},
{"data":{"values":[{"m":978.78}]},"mark":{"type":"rule","color":"#6e8896","strokeWidth":1.5},"encoding":{}},
{"data":{"values":[{"m":880.411}]},"mark":{"type":"rule","color":"#6e8896","strokeWidth":1.2},"encoding":{"x2":{"datum":976.36},"y":{"datum":-4.8,"type":"quantitative"}}}
]},
{"width":1920,"height":141,"encoding":{"x":{"field":"m","type":"quantitative","scale":{"domain":[880.411,978.82],"nice":false,"zero":false,"padding":0}}},
"layer":[
{"data":{"name":"volume"},"transform":[{"filter":"datum.s=='up'"}],"mark":{"type":"bar","width":17.5,"stroke":"#1a9a2a","strokeWidth":1.2,"fill":{"gradient":"linear","x1":0,"y1":0,"x2":1,"y2":0,"stops":[{"offset":0,"color":"#70f070"},{"offset":1,"color":"#36c040"}]}},"encoding":{"x":{"field":"m","type":"quantitative","scale":{"domain":[880.411,978.82],"nice":false,"zero":false,"padding":0},"axis":{"title":null,"ticks":true,"labels":true,"tickCount":100,"orient":"bottom","values":[882,885,888,891,894,897,900,903,906,909,912,915,918,921,924,927,930,933,936,939,942,945,948,951,954,957,960,963,966,969,972,975],"domain":false,"grid":false,"tickSize":3,"tickColor":"#6e8896","labelColor":"#000000","labelFont":"Liberation Sans","labelFontSize":{"condition":{"test":"datum.value%60==0","value":12},"value":11},"labelFontWeight":{"condition":{"test":"datum.value%60==0","value":"bold"},"value":"normal"},"labelPadding":2,"labelOverlap":false,"labelBound":false,"labelFlush":false,"labelExpr":"floor(datum.value/60)+':'+pad(''+(datum.value%60),2,'0','left')"}},"y":{"field":"v","type":"quantitative","scale":{"domain":[0,265],"nice":false,"zero":false},"axis":{"title":null,"ticks":true,"labels":true,"tickCount":100,"orient":"right","offset":-48,"values":[50,100,150,200,250],"domain":false,"grid":false,"tickSize":3,"tickColor":"#6e8896","labelColor":"#000000","labelFont":"Liberation Sans","labelFontSize":11,"labelPadding":3,"labelOverlap":false,"labelBound":false,"labelFlush":false}}}},
{"data":{"name":"volume"},"transform":[{"filter":"datum.s=='dn'"}],"mark":{"type":"bar","width":17.5,"stroke":"#a83030","strokeWidth":1.2,"fill":{"gradient":"linear","x1":0,"y1":0,"x2":1,"y2":0,"stops":[{"offset":0,"color":"#fa8484"},{"offset":1,"color":"#cc5a5a"}]}},"encoding":{"y":{"field":"v","type":"quantitative"}}},
{"data":{"values":[{"x":880.46,"x2":883.36}]},"mark":{"type":"rect","fill":"#c9d9e1","stroke":"#6e8896"},"encoding":{"x":{"field":"x","type":"quantitative"},"x2":{"field":"x2"},"y":{"datum":263.2,"type":"quantitative"},"y2":{"datum":231.2}}},
{"data":{"values":[{"m0":880.67,"m1":880.93,"lo":236.8,"hi":255.6,"c":"g"},{"m0":880.93,"m1":881.18,"lo":236.8,"hi":255.6,"c":"u"}]},"mark":{"type":"rect"},"encoding":{"x":{"field":"m0","type":"quantitative"},"x2":{"field":"m1"},"y":{"field":"lo","type":"quantitative"},"y2":{"field":"hi"},"color":{"field":"c","type":"nominal","legend":null,"scale":{"domain":["g","u","r","b","o","h","k","g2","dg","up","dn"],"range":["#50d060","#e86060","#e02020","#3030e0","#c0b000","#666666","#000000","#009000","#8ccf20","#bfc0e0","#f2bfbf"]}}}},
{"data":{"values":[{"m":881.31,"p":247,"label":"Volume"}]},"mark":{"type":"text","align":"left","baseline":"middle","color":"#000000"},"encoding":{"y":{"field":"p","type":"quantitative"},"text":{"field":"label"}}},
{"data":{"values":[{"m0":976.36,"m1":976.62,"p":62}]},"mark":{"type":"rule","color":"#f06060"},"encoding":{"x":{"field":"m0","type":"quantitative"},"x2":{"field":"m1"},"y":{"field":"p","type":"quantitative"}}},
{"data":{"values":[{"m":976.62,"lo":49,"hi":75}]},"mark":{"type":"rect","fill":"#f0f0f0","stroke":"#6e8896"},"encoding":{"x2":{"datum":977.4},"y":{"field":"lo","type":"quantitative"},"y2":{"field":"hi"}}},
{"data":{"values":[{"m":976.62,"p":62,"label":"62"}]},"mark":{"type":"text","align":"left","baseline":"middle","dx":1.5,"color":"#f06060"},"encoding":{"y":{"field":"p","type":"quantitative"},"text":{"field":"label"}}},
{"data":{"values":[{"m":976.36}]},"mark":{"type":"rule","color":"#6e8896","strokeWidth":1.2},"encoding":{}},
{"data":{"values":[{"m":880.45}]},"mark":{"type":"rule","color":"#6e8896","strokeWidth":1.5},"encoding":{}},
{"data":{"values":[{"m":978.78}]},"mark":{"type":"rule","color":"#6e8896","strokeWidth":1.5},"encoding":{}},
{"data":{"values":[{"m":880.411}]},"mark":{"type":"rule","color":"#6e8896","strokeWidth":1.2},"encoding":{"x2":{"datum":976.36},"y":{"datum":0,"type":"quantitative"}}}
]},
{"width":1920,"height":20,"encoding":{"x":{"field":"m","type":"quantitative","scale":{"domain":[880.411,978.82],"nice":false,"zero":false,"padding":0}}},
"layer":[
{"data":{"values":[{"m":880.45}]},"mark":{"type":"rule","color":"#6e8896","strokeWidth":1.5},"encoding":{}},
{"data":{"values":[{"m":978.78}]},"mark":{"type":"rule","color":"#6e8896","strokeWidth":1.5},"encoding":{}},
{"data":{"values":[{"m":880.411}]},"mark":{"type":"rule","color":"#6e8896","strokeWidth":1.5},"encoding":{"x2":{"datum":978.82},"y":{"datum":0.05,"type":"quantitative","scale":{"domain":[0,1],"nice":false,"zero":false}}}}
]}
]}
